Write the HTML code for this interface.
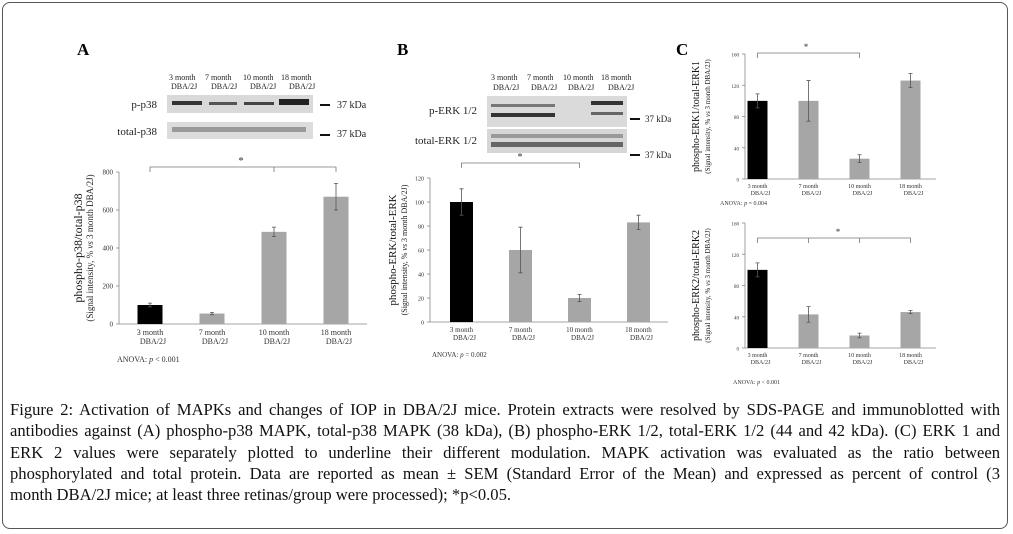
<!DOCTYPE html>
<html><head><meta charset="utf-8">
<style>
html,body{margin:0;padding:0;background:#fff;}
#wrap{position:relative;width:1013px;height:534px;overflow:hidden;}
#frame{position:absolute;left:2px;top:2px;width:1006px;height:527px;border:1.5px solid #555;border-radius:8px;box-sizing:border-box;}
#caption{position:absolute;left:10px;top:399px;width:990px;font-family:"Liberation Serif",serif;font-size:16.6px;line-height:21.3px;color:#111;}
#caption .ln{text-align:justify;text-align-last:justify;white-space:nowrap;height:21.3px;}
#caption .ln.last{text-align-last:left;}
svg text{font-family:"Liberation Serif",serif;}
</style></head><body>
<div id="wrap">
<div id="frame"></div>
<svg id="fig" width="1013" height="534" style="position:absolute;left:0;top:0">
<text x="77" y="55" font-size="17" font-weight="bold">A</text>
<text x="397" y="55" font-size="17" font-weight="bold">B</text>
<text x="676" y="55" font-size="17" font-weight="bold">C</text>
<g font-size="8" fill="#222">
<text x="169" y="80">3 month</text><text x="171" y="89">DBA/2J</text>
<text x="205" y="80">7 month</text><text x="211" y="89">DBA/2J</text>
<text x="243" y="80">10 month</text><text x="250" y="89">DBA/2J</text>
<text x="281" y="80">18 month</text><text x="289" y="89">DBA/2J</text>
<text x="157" y="108" font-size="11" text-anchor="end">p-p38</text>
<text x="157" y="135" font-size="11" text-anchor="end">total-p38</text>
<rect x="167" y="95" width="146" height="18" fill="#d9d9d9"/>
<rect x="167" y="122" width="146" height="17" fill="#dcdcdc"/>
<rect x="172" y="101" width="30" height="4" fill="#333"/><rect x="209" y="102" width="28" height="3" fill="#555"/>
<rect x="244" y="102" width="30" height="3" fill="#444"/><rect x="279" y="99" width="30" height="6" fill="#222"/>
<rect x="172" y="127" width="134" height="5" fill="#999"/>
<rect x="320" y="104" width="10" height="2" fill="#111"/><text x="337" y="108" font-size="10">37 kDa</text>
<rect x="320" y="134" width="10" height="2" fill="#111"/><text x="337" y="137" font-size="10">37 kDa</text>
</g>
<g font-size="8" fill="#222">
<text x="491" y="80">3 month</text><text x="493" y="90">DBA/2J</text>
<text x="527" y="80">7 month</text><text x="531" y="90">DBA/2J</text>
<text x="563" y="80">10 month</text><text x="568" y="90">DBA/2J</text>
<text x="601" y="80">18 month</text><text x="608" y="90">DBA/2J</text>
<text x="477" y="114" font-size="11" text-anchor="end">p-ERK 1/2</text>
<text x="477" y="144" font-size="11" text-anchor="end">total-ERK 1/2</text>
<rect x="487" y="96" width="140" height="31" fill="#dadada"/>
<rect x="487" y="129" width="140" height="24" fill="#d6d6d6"/>
<rect x="491" y="104" width="64" height="3" fill="#777"/><rect x="491" y="113" width="64" height="4" fill="#333"/>
<rect x="591" y="101" width="32" height="4" fill="#333"/><rect x="591" y="112" width="32" height="3" fill="#666"/>
<rect x="491" y="134" width="132" height="4" fill="#999"/><rect x="491" y="142" width="132" height="5" fill="#666"/>
<rect x="630" y="118" width="10" height="2" fill="#111"/><text x="645" y="122" font-size="9">37 kDa</text>
<rect x="630" y="154" width="10" height="2" fill="#111"/><text x="645" y="158" font-size="9">37 kDa</text>
</g>
</svg>
<div id="caption">
<div class="ln">Figure 2: Activation of MAPKs and changes of IOP in DBA/2J mice. Protein extracts were resolved by SDS-PAGE and immunoblotted with</div>
<div class="ln">antibodies against (A) phospho-p38 MAPK, total-p38 MAPK (38 kDa), (B) phospho-ERK 1/2, total-ERK 1/2 (44 and 42 kDa). (C) ERK 1 and</div>
<div class="ln">ERK 2 values were separately plotted to underline their different modulation. MAPK activation was evaluated as the ratio between</div>
<div class="ln">phosphorylated and total protein. Data are reported as mean ± SEM (Standard Error of the Mean) and expressed as percent of control (3</div>
<div class="ln last">month DBA/2J mice; at least three retinas/group were processed); *p&lt;0.05.</div>
</div>
</div>
<script>
const categories = ["3 month", "7 month", "10 month", "18 month"];
const aValues = [100, 55, 485, 670];
const aErrors = [10, 6, 25, 70];
const aTicks = [0, 200, 400, 600, 800];
const bValues = [100, 60, 20, 83];
const bErrors = [11, 19, 3, 6];
const bTicks = [0, 20, 40, 60, 80, 100, 120];
const c1Values = [100, 100, 26, 126];
const c1Errors = [9, 26, 5, 9];
const c2Values = [100, 43, 16, 46];
const c2Errors = [9, 10, 3, 2];
const cTicks = [0, 40, 80, 120, 160];

const NS = "http://www.w3.org/2000/svg";
const svg = document.getElementById("fig");
function mk(tag, attrs, parent) {
  const e = document.createElementNS(NS, tag);
  for (const k in attrs) e.setAttribute(k, attrs[k]);
  parent.appendChild(e);
  return e;
}
function chart(cfg) {
  const g = mk("g", {}, svg);
  
  
  const ymax = cfg.ticks[cfg.ticks.length - 1];
  const y = v => cfg.base - v / ymax * (cfg.base - cfg.top);
  const x = i => cfg.x0 + cfg.step * (i + 0.5);
  mk("line", {x1: cfg.ax, y1: cfg.top, x2: cfg.ax, y2: cfg.base, stroke: "#888", "stroke-width": 0.8}, g);
  mk("line", {x1: cfg.ax, y1: cfg.base, x2: cfg.x0 + cfg.step * 4, y2: cfg.base, stroke: "#888", "stroke-width": 0.8}, g);
  cfg.ticks.forEach(t => {
    mk("line", {x1: cfg.ax - 3, y1: y(t), x2: cfg.ax, y2: y(t), stroke: "#888", "stroke-width": 0.8}, g);
    const tx = mk("text", {x: cfg.ax - 6, y: y(t) + 2.5, "font-size": cfg.fs - 1, "text-anchor": "end", fill: "#333"}, g);
    tx.textContent = t;
    
    
  });
  cfg.values.forEach((v, i) => {
    const r = mk("rect", {x: x(i) - cfg.bw / 2, y: y(v), width: cfg.bw, height: cfg.base - y(v), fill: i === 0 ? "#000" : "#a6a6a6"}, g);
    
    
    const e = cfg.errors[i];
    const eb = mk("path", {d: `M${x(i)},${y(v + e)}V${y(v - e)}M${x(i) - 2},${y(v + e)}h4M${x(i) - 2},${y(v - e)}h4`, stroke: "#555", "stroke-width": 0.8, fill: "none"}, g);
    
    
    const l1 = mk("text", {x: x(i), y: cfg.base + cfg.fs + 3, "font-size": cfg.fs, "text-anchor": "middle", fill: "#333"}, g);
    l1.textContent = categories[i];
    
    
    const l2 = mk("text", {x: x(i) + 3, y: cfg.base + 2 * cfg.fs + 4, "font-size": cfg.fs, "text-anchor": "middle", fill: "#333"}, g);
    l2.textContent = "DBA/2J";
  });
  const bi = cfg.bracket, by = cfg.by;
  let d = `M${x(bi[0])},${by + 5}V${by}H${x(bi[bi.length - 1])}V${by + 5}`;
  bi.slice(1, -1).forEach(i => d += `M${x(i)},${by}v5`);
  const br = mk("path", {d: d, stroke: "#777", "stroke-width": 0.8, fill: "none"}, g);
  
  
  const st = mk("text", {x: cfg.starX, y: by - 3, "font-size": cfg.fs + 3, "text-anchor": "middle", fill: "#333"}, g);
  st.textContent = "*";
  
  
  const an = mk("text", {x: cfg.anX, y: cfg.anY, "font-size": cfg.fs, fill: "#333"}, g);
  an.innerHTML = 'ANOVA: <tspan font-style="italic">p</tspan> ' + cfg.pval;
  
  
  const cy = (cfg.top + cfg.base) / 2;
  const t1 = mk("text", {transform: `translate(${cfg.tx},${cy}) rotate(-90)`, "font-size": cfg.fs + 4, "text-anchor": "middle", fill: "#111"}, g);
  t1.textContent = cfg.title;
  
  
  const t2 = mk("text", {transform: `translate(${cfg.tx + 11},${cy}) rotate(-90)`, "font-size": cfg.fs + 1, "text-anchor": "middle", fill: "#222"}, g);
  t2.innerHTML = '(Signal intensity, % <tspan font-style="italic">vs</tspan> 3 month DBA/2J)';
}
chart({name: "chart-a", values: aValues, errors: aErrors, ticks: aTicks, ax: 119, x0: 119, step: 62, top: 172, base: 324, bw: 25, fs: 8,
  bracket: [0, 2, 3], by: 167, starX: 241, anX: 117, anY: 362, pval: "< 0.001", tx: 82, title: "phospho-p38/total-p38"});
chart({name: "chart-b", values: bValues, errors: bErrors, ticks: bTicks, ax: 430, x0: 432, step: 59, top: 178, base: 322, bw: 23, fs: 7,
  bracket: [0, 2], by: 163, starX: 520, anX: 432, anY: 357, pval: "= 0.002", tx: 396, title: "phospho-ERK/total-ERK"});
chart({name: "chart-c-erk1", values: c1Values, errors: c1Errors, ticks: cTicks, ax: 745, x0: 732, step: 51, top: 54, base: 179, bw: 20, fs: 6,
  bracket: [0, 2], by: 53, starX: 806, anX: 720, anY: 205, pval: "= 0.004", tx: 699, title: "phospho-ERK1/total-ERK1"});
chart({name: "chart-c-erk2", values: c2Values, errors: c2Errors, ticks: cTicks, ax: 745, x0: 732, step: 51, top: 223, base: 348, bw: 20, fs: 6,
  bracket: [0, 1, 2, 3], by: 238, starX: 838, anX: 733, anY: 384, pval: "< 0.001", tx: 699, title: "phospho-ERK2/total-ERK2"});
</script>
</body></html>
